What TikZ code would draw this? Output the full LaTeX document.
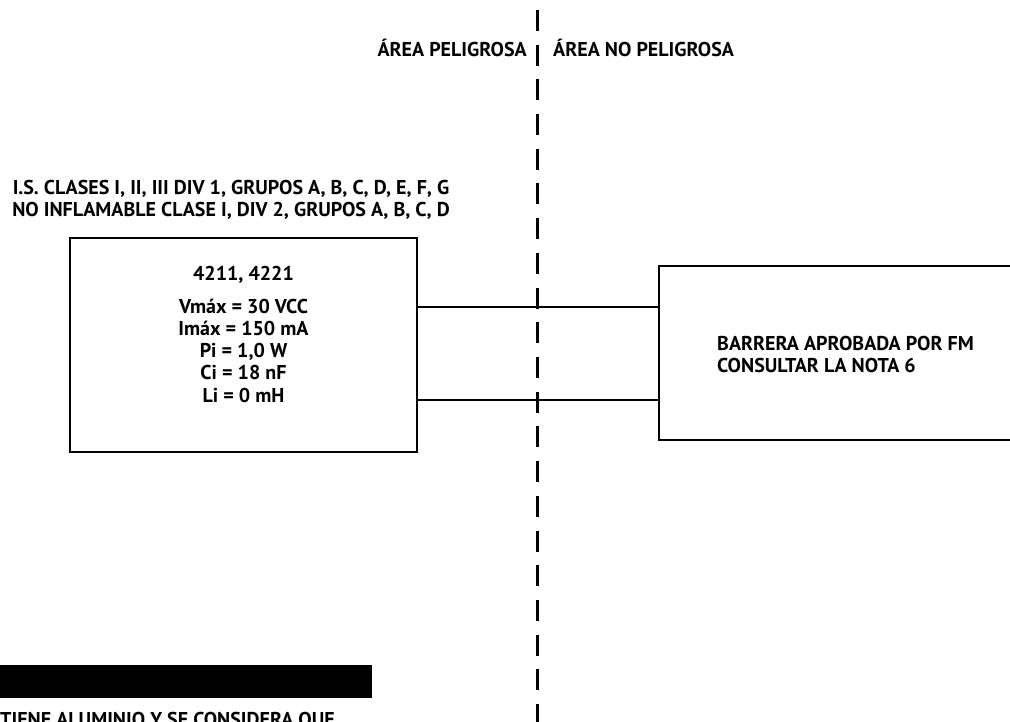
\documentclass[tikz,border=0pt]{standalone}
\usepackage{fontspec}
\setmainfont{PT Sans}
\tikzset{
  px/.style={x=1pt,y=-1pt},
  box/.style={draw,line width=1.4pt,rectangle,inner sep=0pt},
  wire/.style={line width=1.4pt},
  lbl/.style={inner sep=0pt,font=\bfseries\fontsize{20}{22}\selectfont},
  divider/.style={line width=3pt,dash pattern=on 21pt off 13.7pt}
}
\begin{document}
\begin{tikzpicture}[px]
\useasboundingbox (0,0) rectangle (1010,722);
\clip (0,0) rectangle (1010,722);
% boxes
\node[box,minimum width=347pt,minimum height=214pt] (L) at (243.5,345) {};
\node[box,minimum width=361pt,minimum height=174pt] (R) at (839.5,353) {};
% connectors
\coordinate (c1) at (0,307);
\coordinate (c2) at (0,400);
\draw[wire] (L.east |- c1) -- (R.west |- c1);
\draw[wire] (L.east |- c2) -- (R.west |- c2);
% divider
\coordinate (dtop) at (537.5,10);
\coordinate (dbot) at (537.5,730);
\draw[divider] (dtop) -- (dbot);
% area labels
\node[lbl,anchor=base east] (haz) at (527,57) {ÁREA PELIGROSA};
\node[lbl,anchor=base west] (nonhaz) at (553,57) {ÁREA NO PELIGROSA};
% header
\node[lbl,anchor=base] (h1) at (231,195) {I.S. CLASES I, II, III DIV 1, GRUPOS A, B, C, D, E, F, G};
\node[lbl,anchor=base] (h2) at (231,217) {NO INFLAMABLE CLASE I, DIV 2, GRUPOS A, B, C, D};
% left box text
\node[lbl,anchor=base] (t0) at (L.center |- 0,280) {4211, 4221};
\node[lbl,anchor=base] (t1) at (L.center |- 0,313) {Vmáx = 30 VCC};
\node[lbl,anchor=base] (t2) at (L.center |- 0,335) {Imáx = 150 mA};
\node[lbl,anchor=base] (t3) at (L.center |- 0,357) {Pi = 1,0 W};
\node[lbl,anchor=base] (t4) at (L.center |- 0,379) {Ci = 18 nF};
\node[lbl,anchor=base] (t5) at (L.center |- 0,402) {Li = 0 mH};
% right box text
\node[lbl,anchor=base west] (r1) at (717,350) {BARRERA APROBADA POR FM};
\node[lbl,anchor=base west] (r2) at (717,372) {CONSULTAR LA NOTA 6};
% black bar and bottom text
\fill (0,665) rectangle (372,698);
\node[lbl,anchor=base west] (bt) at (0,726) {TIENE ALUMINIO Y SE CONSIDERA QUE};
\end{tikzpicture}
\end{document}
